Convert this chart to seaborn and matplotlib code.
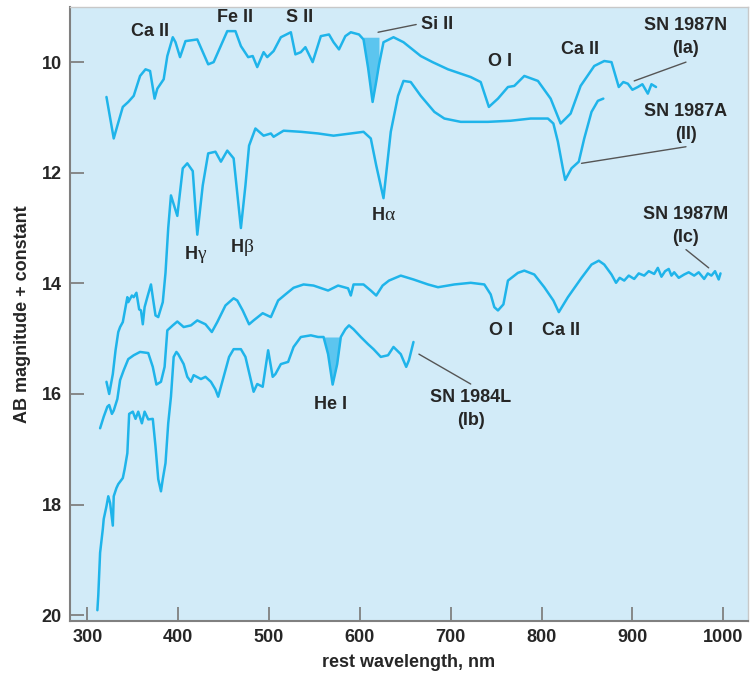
import numpy as np
import pandas as pd
import seaborn as sns
import matplotlib
matplotlib.use("Agg")
import matplotlib.pyplot as plt

# --------------------------------------------------------------------------
# Data
# --------------------------------------------------------------------------

wl_87n = [321, 329, 333, 339, 345, 351, 358, 364, 369, 374,
          377, 384, 388, 394, 397, 402, 408, 421, 433, 439,
          454, 463, 469, 477, 482, 487, 494, 498, 505, 513,
          524, 529, 535, 540, 548, 557, 566, 571, 577, 584,
          590, 599, 604, 609, 614, 618, 621, 626, 637, 648,
          667, 680, 697, 722, 733, 742, 752, 763, 770, 781,
          796, 810, 821, 832, 843, 858, 869, 877, 885, 890,
          895, 900, 906, 911, 917, 921, 926]
mag_87n = [10.63, 11.38, 11.15, 10.81, 10.72, 10.61, 10.25, 10.13, 10.16, 10.66,
           10.48, 10.31, 9.89, 9.55, 9.64, 9.91, 9.62, 9.59, 10.04, 10.00,
           9.44, 9.44, 9.71, 9.91, 9.89, 10.09, 9.82, 9.91, 9.80, 9.55,
           9.46, 9.86, 9.82, 9.73, 10.00, 9.53, 9.50, 9.64, 9.77, 9.53,
           9.46, 9.50, 9.59, 10.10, 10.72, 10.35, 10.05, 9.64, 9.55, 9.64,
           9.89, 10.00, 10.13, 10.27, 10.36, 10.81, 10.66, 10.45, 10.43, 10.25,
           10.34, 10.66, 11.11, 10.93, 10.43, 10.07, 9.98, 10.00, 10.45, 10.36,
           10.39, 10.50, 10.45, 10.40, 10.57, 10.40, 10.45]

wl_87a = [321, 324, 328, 331, 334, 336, 339, 342, 344, 345,
          349, 351, 354, 357, 359, 361, 363, 366, 370, 372,
          375, 378, 383, 386, 389, 392, 399, 405, 410, 416,
          421, 427, 433, 441, 447, 454, 461, 469, 474, 478,
          485, 494, 502, 505, 516, 535, 554, 571, 590, 604,
          612, 618, 626, 634, 642, 648, 656, 667, 682, 693,
          711, 741, 766, 788, 807, 813, 818, 824, 826, 833,
          841, 847, 855, 862, 868]
mag_87a = [15.78, 16.00, 15.64, 15.21, 14.88, 14.79, 14.70, 14.43, 14.25, 14.34,
           14.22, 14.25, 14.17, 14.47, 14.49, 14.74, 14.43, 14.25, 14.02, 14.25,
           14.58, 14.61, 14.34, 13.81, 13.00, 12.41, 12.78, 11.92, 11.83, 11.97,
           13.12, 12.23, 11.65, 11.62, 11.80, 11.60, 11.74, 13.00, 12.23, 11.51,
           11.20, 11.33, 11.29, 11.35, 11.24, 11.26, 11.29, 11.33, 11.29, 11.26,
           11.38, 11.87, 12.46, 11.26, 10.61, 10.34, 10.36, 10.61, 10.90, 11.02,
           11.08, 11.08, 11.06, 11.02, 11.02, 11.11, 11.44, 11.97, 12.13, 11.92,
           11.80, 11.38, 10.90, 10.70, 10.66]

wl_87m = [314, 318, 322, 324, 327, 329, 333, 336, 340, 345,
          351, 358, 367, 372, 376, 381, 385, 388, 394, 399,
          406, 414, 421, 430, 437, 443, 452, 461, 465, 471,
          478, 483, 493, 502, 510, 518, 527, 538, 549, 565,
          576, 587, 590, 593, 604, 612, 618, 625, 632, 645,
          659, 675, 686, 704, 722, 737, 744, 748, 752, 758,
          763, 774, 781, 792, 803, 813, 819, 829, 844, 855,
          863, 869, 877, 882, 886, 891, 896, 902, 907, 913,
          918, 924, 928, 932, 936, 940, 943, 946, 951, 957,
          962, 968, 973, 979, 983, 987, 991, 995, 997]
mag_87m = [16.62, 16.41, 16.23, 16.20, 16.36, 16.30, 16.09, 15.75, 15.57, 15.37,
           15.30, 15.24, 15.26, 15.51, 15.83, 15.78, 15.51, 14.85, 14.76, 14.69,
           14.79, 14.76, 14.67, 14.74, 14.88, 14.70, 14.40, 14.27, 14.31, 14.49,
           14.74, 14.67, 14.54, 14.61, 14.31, 14.20, 14.08, 14.02, 14.04, 14.13,
           14.04, 14.09, 14.22, 14.02, 14.02, 14.13, 14.22, 14.04, 13.95, 13.86,
           13.93, 14.02, 14.07, 14.02, 13.99, 14.02, 14.20, 14.43, 14.49, 14.38,
           13.95, 13.81, 13.77, 13.84, 14.07, 14.31, 14.52, 14.25, 13.90, 13.66,
           13.59, 13.66, 13.84, 13.99, 13.90, 13.95, 13.86, 13.92, 13.82, 13.86,
           13.78, 13.83, 13.72, 13.88, 13.78, 13.74, 13.86, 13.80, 13.90, 13.84,
           13.80, 13.86, 13.80, 13.92, 13.82, 13.86, 13.78, 13.93, 13.82]

wl_84l = [311, 312, 314, 317, 318, 321, 323, 325, 328, 329,
          332, 334, 339, 341, 344, 345, 346, 350, 353, 356,
          360, 363, 367, 372, 375, 378, 381, 383, 386, 389,
          392, 395, 398, 400, 406, 410, 414, 417, 425, 430,
          436, 441, 444, 450, 456, 461, 469, 474, 480, 483,
          487, 493, 499, 504, 507, 513, 521, 527, 535, 546,
          554, 560, 565, 570, 575, 579, 584, 588, 593, 601,
          609, 615, 623, 631, 637, 645, 651, 654, 659]
mag_84l = [19.91, 19.64, 18.87, 18.44, 18.26, 18.03, 17.85, 17.97, 18.38, 17.85,
           17.70, 17.63, 17.52, 17.36, 17.07, 16.71, 16.36, 16.32, 16.45, 16.32,
           16.53, 16.32, 16.46, 16.45, 16.95, 17.54, 17.76, 17.54, 17.25, 16.53,
           16.05, 15.33, 15.24, 15.28, 15.46, 15.69, 15.78, 15.66, 15.73, 15.69,
           15.78, 15.92, 16.05, 15.69, 15.33, 15.19, 15.19, 15.33, 15.75, 15.96,
           15.82, 15.87, 15.21, 15.69, 15.64, 15.46, 15.42, 15.15, 14.97, 14.94,
           14.97, 14.97, 15.28, 15.83, 15.46, 14.97, 14.83, 14.76, 14.83, 14.97,
           15.10, 15.19, 15.33, 15.30, 15.15, 15.28, 15.51, 15.39, 15.06]

SPECTRA = [
    ("SN 1987N", wl_87n, mag_87n),
    ("SN 1987A", wl_87a, mag_87a),
    ("SN 1987M", wl_87m, mag_87m),
    ("SN 1984L", wl_84l, mag_84l),
]

# shaded absorption troughs: (series, lo, hi, continuum level)
TROUGHS = [("SN 1987N", 602, 623, 9.55), ("SN 1984L", 560, 580, 14.97)]

# line identifications: (text, wavelength, magnitude)
LINE_LABELS = [
    ("Ca II", 369, 9.44), ("Fe II", 463, 9.19), ("S II", 534, 9.19),
    ("O I", 754, 9.98), ("Ca II", 842, 9.77),
    ("O I", 755, 14.85), ("Ca II", 821, 14.85), ("He I", 568, 16.19),
]

# hydrogen lines: (greek letter, wavelength, magnitude)
H_LABELS = [("γ", 421, 13.48), ("β", 472, 13.36), ("α", 627, 12.78)]

# supernova names: (text, wavelength, magnitude, leader from, leader to)
SN_LABELS = [
    ("SN 1987N\n(Ia)", 959, 9.54, (902, 10.34), (959, 10.00)),
    ("SN 1987A\n(II)", 959, 11.10, (844, 11.83), (959, 11.53)),
    ("SN 1987M\n(Ic)", 959, 12.96, (959, 13.39), (984, 13.72)),
    ("SN 1984L\n(Ib)", 722, 16.27, (665, 15.28), (722, 15.82)),
]

# --------------------------------------------------------------------------
# Style
# --------------------------------------------------------------------------

BG = "#d2ebf8"
LINE = "#1fb4ea"
FILL = "#5cc5ef"
GREY = "#808080"

sns.set_style("ticks")
plt.rcParams["font.family"] = ["Liberation Sans", "DejaVu Sans"]
plt.rcParams["font.weight"] = "bold"

fig = plt.figure(figsize=(7.5, 6.81), dpi=100)
ax = fig.add_axes([0.0935, 0.0885, 0.9035, 0.9015])
ax.set_facecolor(BG)

df = pd.concat(
    [pd.DataFrame({"sn": name, "wl": wl, "mag": mag}) for name, wl, mag in SPECTRA],
    ignore_index=True,
)

for name, _, _ in SPECTRA:
    sub = df[df["sn"] == name]
    sns.lineplot(sub, x="wl", y="mag", color=LINE, lw=1.8,
                 estimator=None, sort=False, ax=ax,
                 solid_joinstyle="round", solid_capstyle="round")

for name, lo, hi, level in TROUGHS:
    sub = df[(df["sn"] == name) & (df["wl"] >= lo) & (df["wl"] <= hi)]
    ax.fill_between(sub["wl"], level, np.maximum(sub["mag"], level),
                    color=FILL, lw=0, zorder=1)

for text, x, y in LINE_LABELS:
    ax.text(x, y, text, ha="center", va="center", fontsize=13, fontweight="bold")

for greek, x, y in H_LABELS:
    ax.text(x, y, "H", ha="right", va="center", fontsize=13, fontweight="bold")
    ax.text(x, y, greek, ha="left", va="center", fontsize=14,
            fontweight="normal", family=["Liberation Serif", "DejaVu Serif"])

ax.text(667, 9.32, "Si II", ha="left", va="center", fontsize=13, fontweight="bold")
ax.plot([620, 662], [9.46, 9.32], color="#555555", lw=1)

for text, x, y, p0, p1 in SN_LABELS:
    ax.text(x, y, text, ha="center", va="center", fontsize=13,
            fontweight="bold", linespacing=1.45)
    ax.plot([p0[0], p1[0]], [p0[1], p1[1]], color="#555555", lw=1)

ax.set_xlim(281, 1027)
ax.set_ylim(20.1, 9.0)
ax.set_xticks([300, 400, 500, 600, 700, 800, 900, 1000])
ax.set_yticks([10, 12, 14, 16, 18, 20])
ax.tick_params(direction="in", length=10, width=1.3, color=GREY,
               labelsize=13, pad=6)
for lab in ax.get_xticklabels() + ax.get_yticklabels():
    lab.set_fontweight("bold")

for side in ["left", "bottom"]:
    ax.spines[side].set_color(GREY)
    ax.spines[side].set_linewidth(1.5)
for side in ["top", "right"]:
    ax.spines[side].set_color("#c8c8c8")
    ax.spines[side].set_linewidth(1.0)

ax.set_xlabel("rest wavelength, nm", fontsize=13, fontweight="bold", labelpad=6)
ax.set_ylabel("AB magnitude + constant", fontsize=13, fontweight="bold", labelpad=8)

fig.savefig("out.png", dpi=100, facecolor="white")
